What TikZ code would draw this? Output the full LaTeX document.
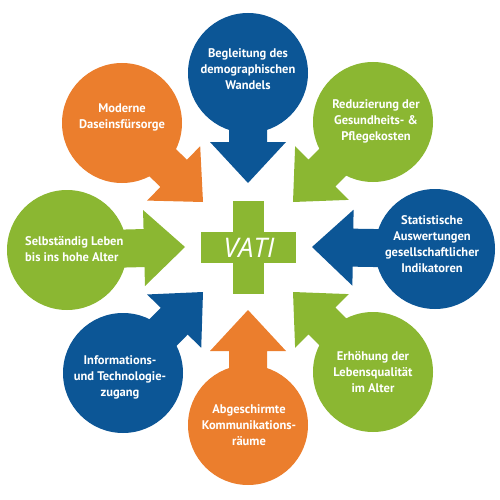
\documentclass[tikz,border=0pt]{standalone}
\usepackage{fontspec}
\setmainfont{PT Sans}
\newfontfamily\vatifont{Open Sans}
\usetikzlibrary{calc}
\definecolor{vblue}{HTML}{0C5696}
\definecolor{vgreen}{HTML}{8BB732}
\definecolor{vorange}{HTML}{EB7E2D}
\newcommand\vatiarrow[3]{%
  \fill[#1] ($(#2.center)!19pt!90:(#3)$)
    -- ($(#3)!41pt!(#2.center)!19pt!-90:(#2.center)$)
    -- ($(#3)!41pt!(#2.center)!38pt!-90:(#2.center)$)
    -- (#3)
    -- ($(#3)!41pt!(#2.center)!38pt!90:(#2.center)$)
    -- ($(#3)!41pt!(#2.center)!19pt!90:(#2.center)$)
    -- ($(#2.center)!19pt!-90:(#3)$) -- cycle;}
\tikzset{
  bubble/.style={circle, minimum size=120pt, inner sep=0pt, fill=#1},
  btext/.style={text=white, align=center, font=\bfseries\fontsize{12.5}{16}\selectfont, inner sep=0pt},
  bar/.style={fill=vgreen, inner sep=0pt, rectangle}
}
\begin{document}
\begin{tikzpicture}[x=1pt,y=-1pt]
\useasboundingbox (0,0) rectangle (500,500);
% circles
\node[bubble=vblue]   (c1) at (248,73) {};
\node[bubble=vgreen]  (c2) at (373,122) {};
\node[bubble=vblue]   (c3) at (435,249) {};
\node[bubble=vgreen]  (c4) at (373,372) {};
\node[bubble=vorange] (c5) at (248,425) {};
\node[bubble=vblue]   (c6) at (123,373) {};
\node[bubble=vgreen]  (c7) at (67,250) {};
\node[bubble=vorange] (c8) at (122,123) {};
% arrow tips
\coordinate (t1) at (248,183);
\coordinate (t2) at (293,202);
\coordinate (t3) at (312,247);
\coordinate (t4) at (293,292);
\coordinate (t5) at (248,310);
\coordinate (t6) at (203,292);
\coordinate (t7) at (185,247);
\coordinate (t8) at (203,202);
\vatiarrow{vblue}{c1}{t1}
\vatiarrow{vgreen}{c2}{t2}
\vatiarrow{vblue}{c3}{t3}
\vatiarrow{vgreen}{c4}{t4}
\vatiarrow{vorange}{c5}{t5}
\vatiarrow{vblue}{c6}{t6}
\vatiarrow{vgreen}{c7}{t7}
\vatiarrow{vorange}{c8}{t8}
% texts
\node[btext] (l1) at (248,69) {Begleitung des\\demographischen\\Wandels};
\node[btext] (l2) at (376,121) {Reduzierung der\\Gesundheits- \&\\Pflegekosten};
\node[btext] (l3) at (432,244) {Statistische\\Auswertungen\\gesellschaftlicher\\Indikatoren};
\node[btext] (l4) at (373,372) {Erhöhung der\\Lebensqualität\\im Alter};
\node[btext] (l5) at (249,425) {Abgeschirmte\\Kommunikations-\\räume};
\node[btext] (l6) at (120,377) {Informations-\\und Technologie-\\zugang};
\node[btext, align=left, anchor=west] (l7) at (25,249) {Selbständig Leben\\bis ins hohe Alter};
\node[btext] (l8) at (122,117) {Moderne\\Daseinsfürsorge};
% cross
\node[bar, minimum width=31pt, minimum height=93pt] (vbar) at (248,247) {};
\node[bar, minimum width=95pt, minimum height=31pt] (hbar) at (248,247) {};
\node[text=white, inner sep=0pt, font=\vatifont\itshape\fontsize{27}{30}\selectfont] (vati) at (249,248) {VATI};
\end{tikzpicture}
\end{document}
